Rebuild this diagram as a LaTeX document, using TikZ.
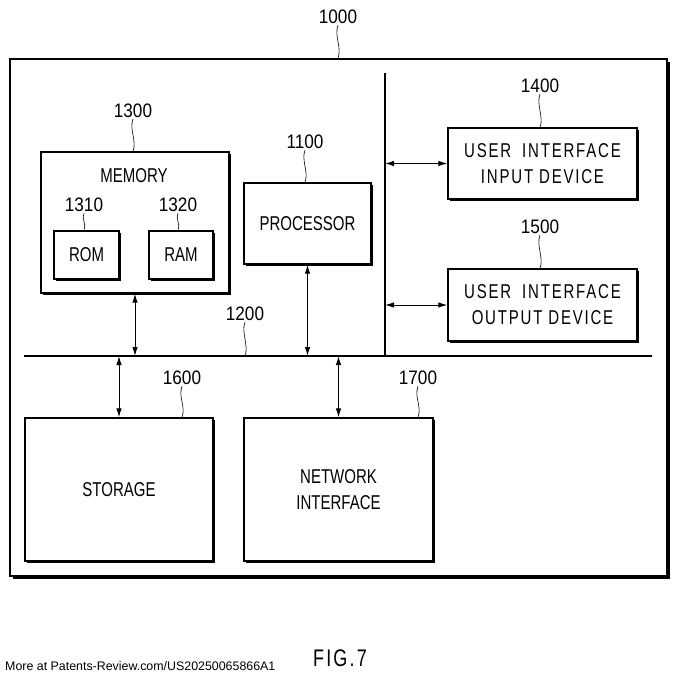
\documentclass[tikz,border=0pt]{standalone}
\usepackage{fontspec}
\setmainfont{Liberation Sans}
\newfontfamily\lblfont[FakeStretch=0.75]{Liberation Sans}
\newfontfamily\numfont[FakeStretch=0.88]{Liberation Sans}
\newfontfamily\uifont[FakeStretch=0.75,LetterSpace=9]{Liberation Sans}
\usetikzlibrary{arrows.meta,shadows}
\begin{document}
\begin{tikzpicture}[x=1pt,y=-1pt,
  box/.style={draw,line width=1.3pt,fill=white,
    drop shadow={shadow xshift=2pt,shadow yshift=-2pt,fill=black,opacity=1},
    inner sep=0pt,align=center,font=\lblfont\fontsize{20}{26}\selectfont},
  uibox/.style={box,font=\uifont\fontsize{20}{26}\selectfont},
  outerbox/.style={draw,line width=1.3pt,fill=white,
    drop shadow={shadow xshift=3pt,shadow yshift=-3pt,fill=black,opacity=1},inner sep=0pt},
  num/.style={font=\numfont\fontsize{19.5}{20}\selectfont,inner sep=1pt},
  txt/.style={font=\lblfont\fontsize{20}{26}\selectfont,inner sep=1pt},
  link/.style={line width=1pt,{Latex[length=9pt,width=5.5pt]}-{Latex[length=9pt,width=5.5pt]}},
  lead/.style={line width=0.6pt},
  busline/.style={line width=2pt},
]
\useasboundingbox (0,0) rectangle (679,680);
\fill[white] (0,0) rectangle (679,680);

% outer system box
\node[outerbox,minimum width=657,minimum height=517] (sys) at (338.5,317.5) {};

% bus and divider
\coordinate (busL) at (24,356);
\coordinate (busR) at (652,356);
\coordinate (divT) at (385,73);
\coordinate (divB) at (385,356);
\draw[busline] (busL) -- (busR);
\draw[line width=1.6pt] (divT) -- (divB);

% boxes
\node[box,minimum width=188,minimum height=141] (mem) at (135,222.5) {};
\node[txt] (memtxt) at (134,176) {MEMORY};
\node[box,minimum width=65,minimum height=48] (rom) at (86.5,255) {ROM};
\node[box,minimum width=64,minimum height=48] (ram) at (181,255) {RAM};
\node[box,minimum width=127,minimum height=81] (proc) at (307.5,223.5) {PROCESSOR};
\node[uibox,minimum width=189,minimum height=71] (uiin) at (542.5,163.5) {USER\hspace{5pt} INTERFACE\\INPUT DEVICE};
\node[uibox,minimum width=189,minimum height=72] (uiout) at (542.5,305) {USER\hspace{5pt} INTERFACE\\OUTPUT DEVICE};
\node[box,minimum width=188,minimum height=143] (stor) at (119,489.5) {STORAGE};
\node[box,minimum width=189,minimum height=143] (net) at (338.5,489.5) {NETWORK\\INTERFACE};

% connectors
\draw[link] (mem.south) -- (mem.south |- busL);
\draw[link] (proc.south) -- (proc.south |- busL);
\draw[link] (uiin.west -| divT) -- (uiin.west);
\draw[link] (uiout.west -| divT) -- (uiout.west);
\draw[link] (stor.north |- busL) -- (stor.north);
\draw[link] (net.north |- busL) -- (net.north);

% reference numerals
\node[num] (l1000) at (338,17) {1000};
\node[num] (l1300) at (133,111) {1300};
\node[num] (l1310) at (84,205) {1310};
\node[num] (l1320) at (178,205) {1320};
\node[num] (l1100) at (305,142) {1100};
\node[num] (l1400) at (540,86) {1400};
\node[num] (l1500) at (540,227) {1500};
\node[num] (l1200) at (245,314) {1200};
\node[num] (l1600) at (182,378) {1600};
\node[num] (l1700) at (418,378) {1700};

\draw[lead] (l1000.south) .. controls +(-4,12) and +(4,-12) .. (l1000.south |- sys.north);
\draw[lead] (l1300.south) .. controls +(-4,10) and +(4,-10) .. (l1300.south |- mem.north);
\draw[lead] (l1310.south) .. controls +(-3,6) and +(3,-6) .. (l1310.south |- rom.north);
\draw[lead] (l1320.south) .. controls +(-3,6) and +(3,-6) .. (l1320.south |- ram.north);
\draw[lead] (l1100.south) .. controls +(-4,10) and +(4,-10) .. (l1100.south |- proc.north);
\draw[lead] (l1400.south) .. controls +(-4,10) and +(4,-10) .. (l1400.south |- uiin.north);
\draw[lead] (l1500.south) .. controls +(-4,10) and +(4,-10) .. (l1500.south |- uiout.north);
\draw[lead] (l1200.south) .. controls +(-4,10) and +(4,-10) .. (l1200.south |- busL);
\draw[lead] (l1600.south) .. controls +(-4,12) and +(4,-12) .. (l1600.south |- stor.north);
\draw[lead] (l1700.south) .. controls +(-4,12) and +(4,-12) .. (l1700.south |- net.north);

% figure caption and footer
\node[font=\uifont\fontsize{24}{26}\selectfont] (fig) at (340,658) {FIG.7};
\node[font=\fontsize{12.4}{14}\selectfont,anchor=west,inner sep=0pt] (foot) at (5,666) {More at Patents-Review.com/US20250065866A1};
\end{tikzpicture}
\end{document}
